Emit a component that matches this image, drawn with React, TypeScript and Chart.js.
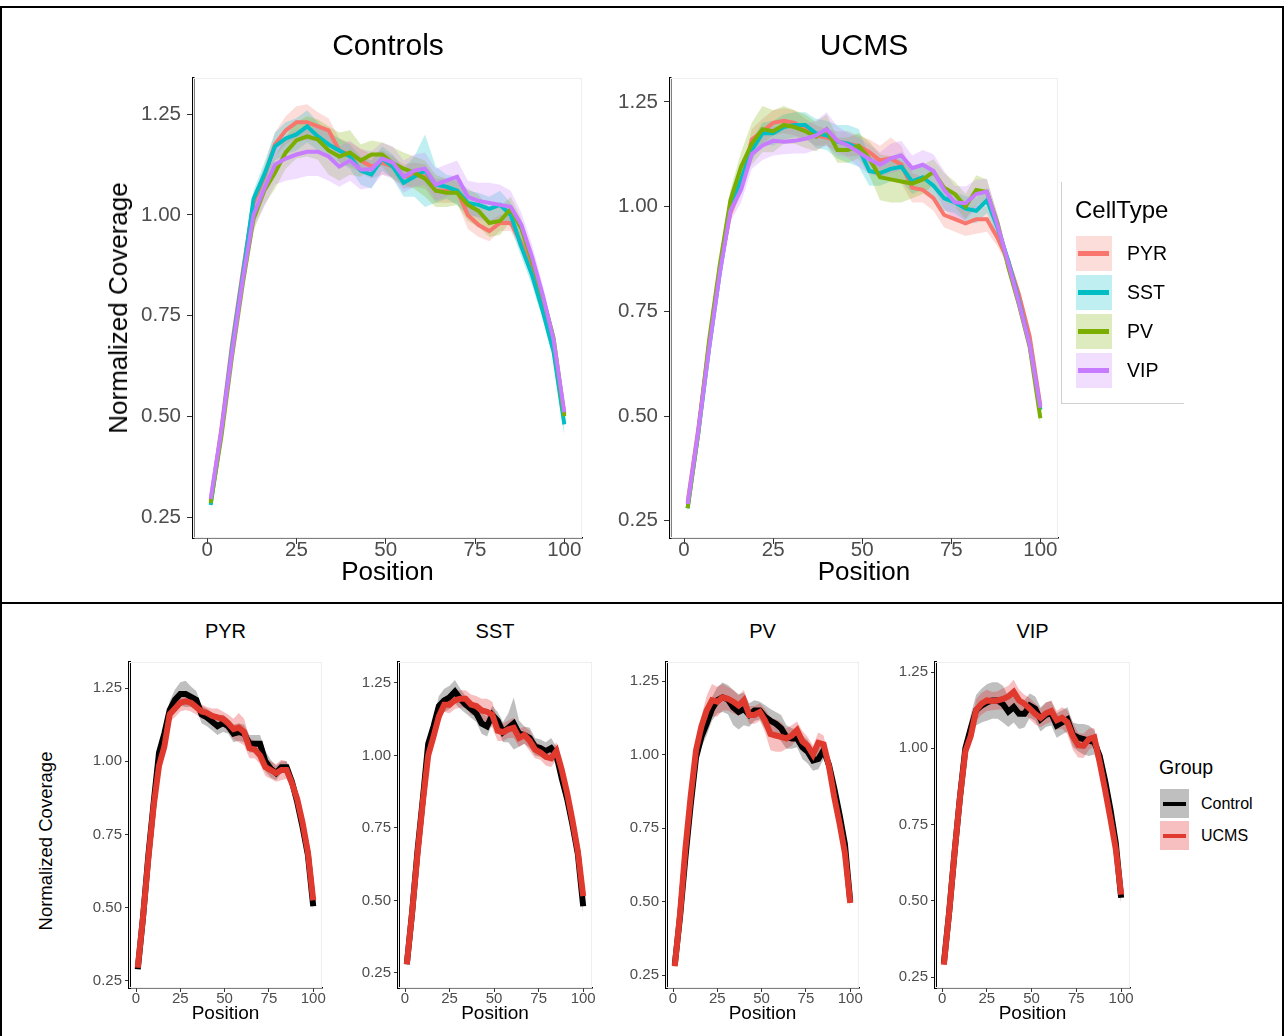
import React, { useEffect, useRef } from 'react';
import { Chart, registerables } from 'chart.js';

Chart.register(...registerables);

const FONT = '"Liberation Sans", Arial, Helvetica, sans-serif';
Chart.defaults.font.family = FONT;

// ---------------- DATA ----------------
const positions = [1, 4, 7, 10, 13, 16, 19, 22, 25, 28, 31, 34, 37, 40, 43, 46, 49, 52, 55, 58, 61, 64, 67, 70, 73, 76, 79, 82, 85, 88, 91, 94, 97, 100];

const cellTypes = ['PYR', 'SST', 'PV', 'VIP'];
const groups = ['Control', 'UCMS'];
const xTicks = [0, 25, 50, 75, 100];
const yTicks = [0.25, 0.5, 0.75, 1.0, 1.25];
const xLimits = [-3.95, 104.95];

const ctrlPYR = [0.29, 0.47, 0.68, 0.86, 1.03, 1.095, 1.175, 1.21, 1.23, 1.23, 1.22, 1.21, 1.16, 1.15, 1.135, 1.12, 1.13, 1.12, 1.095, 1.1, 1.095, 1.06, 1.06, 1.06, 1.0, 0.975, 0.96, 0.98, 0.98, 0.93, 0.86, 0.775, 0.68, 0.505];
const ucmsPYR = [0.295, 0.47, 0.67, 0.85, 0.985, 1.05, 1.16, 1.18, 1.2, 1.205, 1.2, 1.185, 1.17, 1.165, 1.155, 1.15, 1.145, 1.13, 1.11, 1.115, 1.1, 1.045, 1.04, 1.02, 0.98, 0.97, 0.96, 0.97, 0.97, 0.925, 0.87, 0.79, 0.69, 0.525];
const ctrlSST = [0.28, 0.46, 0.67, 0.85, 1.04, 1.1, 1.17, 1.19, 1.2, 1.22, 1.195, 1.175, 1.16, 1.145, 1.11, 1.1, 1.14, 1.12, 1.08, 1.095, 1.11, 1.075, 1.07, 1.06, 1.03, 1.025, 1.015, 1.025, 1.0, 0.92, 0.85, 0.76, 0.66, 0.48];
const ucmsSST = [0.28, 0.46, 0.66, 0.84, 1.0, 1.065, 1.135, 1.175, 1.175, 1.19, 1.195, 1.195, 1.175, 1.17, 1.155, 1.15, 1.14, 1.085, 1.08, 1.09, 1.095, 1.06, 1.07, 1.05, 1.02, 1.01, 0.995, 0.99, 1.015, 0.95, 0.87, 0.775, 0.67, 0.515];
const ctrlPV = [0.285, 0.45, 0.65, 0.83, 0.99, 1.06, 1.105, 1.155, 1.185, 1.195, 1.187, 1.16, 1.145, 1.155, 1.135, 1.15, 1.15, 1.128, 1.115, 1.105, 1.09, 1.06, 1.055, 1.055, 1.025, 1.01, 0.98, 0.985, 1.015, 0.965, 0.885, 0.795, 0.695, 0.5];
const ucmsPV = [0.28, 0.46, 0.68, 0.86, 1.015, 1.095, 1.15, 1.185, 1.18, 1.195, 1.19, 1.18, 1.167, 1.185, 1.135, 1.135, 1.145, 1.115, 1.07, 1.065, 1.06, 1.055, 1.065, 1.083, 1.045, 1.03, 1.0, 1.04, 1.035, 0.96, 0.855, 0.765, 0.665, 0.495];
const ctrlVIP = [0.295, 0.465, 0.66, 0.84, 1.0, 1.065, 1.125, 1.14, 1.15, 1.157, 1.157, 1.145, 1.12, 1.135, 1.113, 1.113, 1.14, 1.13, 1.095, 1.11, 1.115, 1.075, 1.085, 1.095, 1.045, 1.035, 1.03, 1.025, 1.02, 0.975, 0.895, 0.8, 0.69, 0.51];
const ucmsVIP = [0.29, 0.465, 0.66, 0.84, 0.99, 1.04, 1.125, 1.146, 1.157, 1.155, 1.157, 1.162, 1.17, 1.185, 1.157, 1.146, 1.13, 1.113, 1.1, 1.115, 1.122, 1.092, 1.1, 1.085, 1.04, 1.01, 1.008, 1.03, 1.036, 0.955, 0.865, 0.77, 0.67, 0.52];

// ribbon half-widths
const ctrlPYRsd = [0.01, 0.01, 0.012, 0.015, 0.02, 0.025, 0.03, 0.035, 0.04, 0.045, 0.035, 0.03, 0.03, 0.03, 0.03, 0.03, 0.03, 0.025, 0.03, 0.03, 0.03, 0.03, 0.03, 0.03, 0.035, 0.03, 0.025, 0.02, 0.02, 0.02, 0.02, 0.015, 0.015, 0.02];
const ucmsPYRsd = [0.01, 0.01, 0.01, 0.012, 0.015, 0.02, 0.025, 0.03, 0.03, 0.03, 0.03, 0.025, 0.025, 0.02, 0.025, 0.03, 0.025, 0.03, 0.035, 0.05, 0.045, 0.035, 0.03, 0.03, 0.03, 0.03, 0.03, 0.035, 0.03, 0.02, 0.015, 0.015, 0.015, 0.02];
const ctrlSSTsd = [0.015, 0.01, 0.012, 0.015, 0.02, 0.03, 0.035, 0.04, 0.04, 0.04, 0.035, 0.03, 0.03, 0.03, 0.035, 0.035, 0.03, 0.03, 0.035, 0.05, 0.09, 0.045, 0.03, 0.035, 0.03, 0.03, 0.03, 0.035, 0.03, 0.025, 0.025, 0.02, 0.02, 0.03];
const ucmsSSTsd = [0.01, 0.01, 0.01, 0.012, 0.015, 0.02, 0.025, 0.025, 0.03, 0.03, 0.03, 0.03, 0.035, 0.035, 0.04, 0.045, 0.045, 0.035, 0.03, 0.03, 0.035, 0.03, 0.03, 0.035, 0.03, 0.025, 0.03, 0.03, 0.03, 0.02, 0.015, 0.015, 0.015, 0.02];
const ctrlPVsd = [0.01, 0.01, 0.015, 0.02, 0.03, 0.035, 0.04, 0.04, 0.045, 0.05, 0.05, 0.06, 0.06, 0.055, 0.04, 0.035, 0.03, 0.04, 0.04, 0.04, 0.045, 0.04, 0.035, 0.03, 0.04, 0.04, 0.035, 0.035, 0.03, 0.025, 0.02, 0.02, 0.02, 0.02];
const ucmsPVsd = [0.01, 0.01, 0.012, 0.015, 0.025, 0.035, 0.05, 0.055, 0.05, 0.045, 0.04, 0.04, 0.035, 0.035, 0.03, 0.03, 0.03, 0.04, 0.055, 0.055, 0.05, 0.035, 0.035, 0.03, 0.035, 0.03, 0.03, 0.035, 0.03, 0.02, 0.015, 0.015, 0.015, 0.02];
const ctrlVIPsd = [0.01, 0.012, 0.015, 0.02, 0.03, 0.045, 0.05, 0.055, 0.06, 0.06, 0.06, 0.06, 0.05, 0.05, 0.05, 0.045, 0.04, 0.04, 0.04, 0.04, 0.04, 0.04, 0.04, 0.04, 0.04, 0.045, 0.05, 0.05, 0.04, 0.03, 0.03, 0.025, 0.02, 0.02];
const ucmsVIPsd = [0.01, 0.01, 0.012, 0.015, 0.025, 0.03, 0.035, 0.035, 0.035, 0.03, 0.03, 0.035, 0.035, 0.04, 0.035, 0.03, 0.035, 0.035, 0.03, 0.035, 0.035, 0.03, 0.035, 0.04, 0.045, 0.04, 0.04, 0.035, 0.03, 0.025, 0.02, 0.02, 0.02, 0.03];

// y-axis limits per panel
const yLimControls = [0.198, 1.34];
const yLimUCMS = [0.209, 1.307];
const yLimCell = [[0.226, 1.339], [0.198, 1.322], [0.206, 1.315], [0.214, 1.283]];

const ctrlMeans = [ctrlPYR, ctrlSST, ctrlPV, ctrlVIP];
const ucmsMeans = [ucmsPYR, ucmsSST, ucmsPV, ucmsVIP];
const ctrlSds = [ctrlPYRsd, ctrlSSTsd, ctrlPVsd, ctrlVIPsd];
const ucmsSds = [ucmsPYRsd, ucmsSSTsd, ucmsPVsd, ucmsVIPsd];

// ---------------- STYLE ----------------
const cellColors = ['#F8766D', '#00BFC4', '#7CAE00', '#C77CFF'];
const cellFills = ['rgba(248,118,109,0.25)', 'rgba(0,191,196,0.25)', 'rgba(124,174,0,0.25)', 'rgba(199,124,255,0.25)'];
const groupColors = ['#000000', '#E0392D'];
const groupFills = ['rgba(127,127,127,0.5)', 'rgba(228,26,28,0.28)'];

type SeriesSpec = { mean: number[]; sd: number[]; line: string; fill: string; width: number };
type AxisStyle = {
  tickFont: number; tickLen: number; yPad: number; xPad: number;
  yAxisLine: number; xAxisLine: number; axisW: number; axisH: number; padT: number; padR: number;
};

const TOP_STYLE: AxisStyle = { tickFont: 20.5, tickLen: 6, yPad: 6, xPad: -5.5, yAxisLine: 2.5, xAxisLine: 1.5, axisW: 80, axisH: 40, padT: 24, padR: 24 };
const BOTTOM_STYLE: AxisStyle = { tickFont: 15, tickLen: 4, yPad: 3, xPad: -2, yAxisLine: 3, xAxisLine: 1.5, axisW: 50, axisH: 26, padT: 16, padR: 16 };

const panelBorder = {
  id: 'panelBorder',
  beforeDatasetsDraw(chart: any) {
    const { ctx, chartArea: a } = chart;
    ctx.save();
    ctx.strokeStyle = '#EEEEEE';
    ctx.lineWidth = 1;
    ctx.strokeRect(a.left + 0.5, a.top + 0.5, a.right - a.left - 1, a.bottom - a.top - 1);
    ctx.restore();
  },
};

function buildDatasets(series: SeriesSpec[]) {
  const ds: any[] = [];
  series.forEach((s, k) => {
    ds.push({
      data: positions.map((x, i) => ({ x, y: s.mean[i] + s.sd[i] })),
      fill: '+1', backgroundColor: s.fill, borderColor: 'rgba(0,0,0,0)', borderWidth: 0, pointRadius: 0, order: 100 - k,
    });
    ds.push({
      data: positions.map((x, i) => ({ x, y: s.mean[i] - s.sd[i] })),
      fill: false, backgroundColor: 'rgba(0,0,0,0)', borderColor: 'rgba(0,0,0,0)', borderWidth: 0, pointRadius: 0, order: 100 - k,
    });
  });
  series.forEach((s, k) => {
    ds.push({
      data: positions.map((x, i) => ({ x, y: s.mean[i] })),
      fill: false, borderColor: s.line, backgroundColor: s.line, borderWidth: s.width, pointRadius: 0,
      borderCapStyle: 'butt', borderJoinStyle: 'miter', tension: 0, order: 50 - k,
    });
  });
  return ds;
}

type PanelProps = { box: number[]; yLim: number[]; series: SeriesSpec[]; st: AxisStyle };

function Panel({ box, yLim, series, st }: PanelProps) {
  const ref = useRef<HTMLCanvasElement>(null);
  const [L, T, R, B] = box;
  const left = L - st.axisW;
  const top = T - st.padT;
  const width = R - L + st.axisW + st.padR;
  const height = B - T + st.padT + st.axisH;

  useEffect(() => {
    if (!ref.current) return;
    const chart = new Chart(ref.current, {
      type: 'line',
      data: { datasets: buildDatasets(series) },
      plugins: [panelBorder],
      options: {
        animation: false,
        responsive: false,
        events: [],
        layout: { padding: { left: 0, top: st.padT, right: st.padR, bottom: 0 } },
        plugins: { legend: { display: false }, tooltip: { enabled: false }, title: { display: false } },
        scales: {
          x: {
            type: 'linear',
            min: xLimits[0],
            max: xLimits[1],
            afterBuildTicks: (s: any) => { s.ticks = xTicks.map((v) => ({ value: v })); },
            afterFit: (s: any) => { s.height = st.axisH; },
            ticks: {
              color: '#4D4D4D', font: { family: FONT, size: st.tickFont }, padding: st.xPad,
              maxRotation: 0, minRotation: 0, autoSkip: false,
              callback: (v: any) => String(v),
            },
            grid: { display: true, drawOnChartArea: false, drawTicks: true, tickLength: st.tickLen, color: '#333333', lineWidth: 1 },
            border: { display: true, color: '#000000', width: st.xAxisLine },
          },
          y: {
            type: 'linear',
            min: yLim[0],
            max: yLim[1],
            afterBuildTicks: (s: any) => { s.ticks = yTicks.map((v) => ({ value: v })); },
            afterFit: (s: any) => { s.width = st.axisW; },
            ticks: {
              color: '#4D4D4D', font: { family: FONT, size: st.tickFont }, padding: st.yPad, autoSkip: false,
              callback: (v: any) => Number(v).toFixed(2),
            },
            grid: { display: true, drawOnChartArea: false, drawTicks: true, tickLength: st.tickLen, color: '#333333', lineWidth: 1 },
            border: { display: true, color: '#000000', width: st.yAxisLine },
          },
        },
      } as any,
    });
    return () => chart.destroy();
  }, []);

  return (
    <canvas
      ref={ref}
      width={width}
      height={height}
      style={{ position: 'absolute', left, top, width, height }}
    />
  );
}

type LabelProps = { text: string; x: number; y: number; size: number; anchor?: 'start' | 'middle'; rotate?: boolean; color?: string };

function Label({ text, x, y, size, anchor = 'middle', rotate = false, color = '#000' }: LabelProps) {
  return (
    <div
      style={{
        position: 'absolute', left: x, top: y, fontSize: size, lineHeight: 1, whiteSpace: 'nowrap', color,
        fontFamily: FONT,
        transform: `translate(${anchor === 'start' ? '0' : '-50%'}, -50%)${rotate ? ' rotate(-90deg)' : ''}`,
      }}
    >
      {text}
    </div>
  );
}

// layout (plot-area boxes: left, top, right, bottom)
const topBoxes = [[193, 78, 582, 538], [670, 78, 1058, 538]];
const bottomBoxes = [[129, 662, 322, 988], [398, 662, 592, 988], [666, 662, 859, 988], [935, 662, 1130, 988]];

export default function App() {
  const controlsSeries: SeriesSpec[] = cellTypes.map((_, k) => ({ mean: ctrlMeans[k], sd: ctrlSds[k], line: cellColors[k], fill: cellFills[k], width: 4 }));
  const ucmsSeries: SeriesSpec[] = cellTypes.map((_, k) => ({ mean: ucmsMeans[k], sd: ucmsSds[k], line: cellColors[k], fill: cellFills[k], width: 4 }));

  return (
    <div style={{ position: 'absolute', left: 0, top: 0, width: 1285, height: 1036, overflow: 'hidden', background: '#fff', fontFamily: FONT }}>
      {/* frame */}
      <div style={{ position: 'absolute', left: 0, top: 6, width: 1284, height: 1100, border: '2px solid #000', boxSizing: 'border-box' }} />
      <div style={{ position: 'absolute', left: 0, top: 602, width: 1284, height: 2, background: '#000' }} />

      {/* top panels */}
      <Panel box={topBoxes[0]} yLim={yLimControls} series={controlsSeries} st={TOP_STYLE} />
      <Panel box={topBoxes[1]} yLim={yLimUCMS} series={ucmsSeries} st={TOP_STYLE} />
      <Label text="Controls" x={388} y={45} size={30} />
      <Label text="UCMS" x={864} y={45} size={30} />
      <Label text="Position" x={387.5} y={570.5} size={26} />
      <Label text="Position" x={864} y={570.5} size={26} />
      <Label text="Normalized Coverage" x={117.5} y={308} size={26} rotate />

      {/* CellType legend */}
      <div style={{ position: 'absolute', left: 1061, top: 182, width: 123, height: 222, borderLeft: '1px solid #D0D0D0', borderBottom: '1px solid #D0D0D0', boxSizing: 'border-box' }} />
      <Label text="CellType" x={1075} y={210} size={24} anchor="start" />
      {cellTypes.map((c, k) => {
        const y0 = 236 + k * 39;
        return (
          <React.Fragment key={c}>
            <div style={{ position: 'absolute', left: 1076, top: y0, width: 36, height: 35, background: cellFills[k] }} />
            <div style={{ position: 'absolute', left: 1078, top: y0 + 17.5 - 2.25, width: 31, height: 4.5, background: cellColors[k] }} />
            <Label text={c} x={1127} y={y0 + 17.5} size={19.5} anchor="start" />
          </React.Fragment>
        );
      })}

      {/* bottom panels */}
      {cellTypes.map((c, k) => {
        const b = bottomBoxes[k];
        const series: SeriesSpec[] = [
          { mean: ctrlMeans[k], sd: ctrlSds[k], line: groupColors[0], fill: groupFills[0], width: 6 },
          { mean: ucmsMeans[k], sd: ucmsSds[k], line: groupColors[1], fill: groupFills[1], width: 6 },
        ];
        const cx = (b[0] + b[2]) / 2;
        return (
          <React.Fragment key={c}>
            <Panel box={b} yLim={yLimCell[k]} series={series} st={BOTTOM_STYLE} />
            <Label text={c} x={cx} y={630.5} size={20} />
            <Label text="Position" x={cx} y={1012} size={19} />
          </React.Fragment>
        );
      })}
      <Label text="Normalized Coverage" x={46} y={841} size={18.5} rotate />

      {/* Group legend */}
      <Label text="Group" x={1159} y={768} size={19.5} anchor="start" />
      {groups.map((g, k) => {
        const y0 = 789 + k * 32;
        return (
          <React.Fragment key={g}>
            <div style={{ position: 'absolute', left: 1160, top: y0, width: 29, height: 29, background: groupFills[k] }} />
            <div style={{ position: 'absolute', left: 1163, top: y0 + 14.5 - 2, width: 23, height: 4, background: groupColors[k] }} />
            <Label text={g} x={1201} y={y0 + 14.5} size={16} anchor="start" />
          </React.Fragment>
        );
      })}
    </div>
  );
}
